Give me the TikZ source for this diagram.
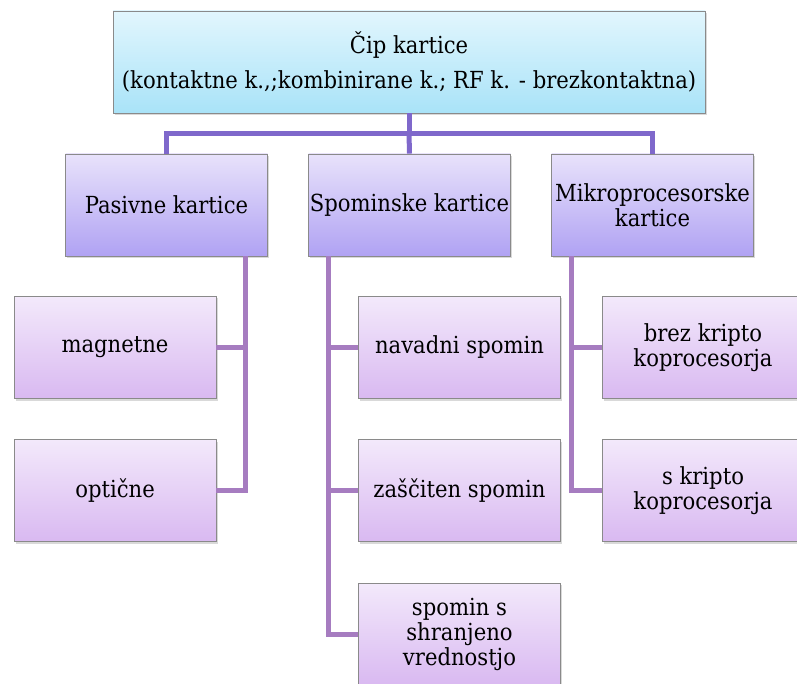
\documentclass[tikz,border=0pt]{standalone}
\usepackage{fontspec}
\setmainfont{DejaVu Serif Condensed}
\usetikzlibrary{shadows,calc}
\definecolor{topA}{HTML}{E2F6FD}
\definecolor{topB}{HTML}{A9E3F8}
\definecolor{midA}{HTML}{E8E2FB}
\definecolor{midB}{HTML}{B0A2F3}
\definecolor{lowA}{HTML}{F3E9FB}
\definecolor{lowB}{HTML}{D9B9F1}
\definecolor{lineA}{HTML}{7F68CB}
\definecolor{lineB}{HTML}{A67CC0}
\definecolor{edge}{HTML}{8A8A8A}
\tikzset{
  boxbase/.style={draw=edge, line width=0.9pt, rectangle, align=center, inner xsep=0pt, inner ysep=2pt,
    drop shadow={shadow xshift=1.5pt, shadow yshift=-2pt, opacity=0.3},
    font=\rmfamily\fontsize{23.5}{25}\selectfont},
  topbox/.style={boxbase, top color=topA, bottom color=topB, minimum width=592pt, minimum height=102pt,
    font=\rmfamily\fontsize{23.5}{35}\selectfont},
  midbox/.style={boxbase, top color=midA, bottom color=midB, minimum width=202pt, minimum height=102pt},
  lowbox/.style={boxbase, top color=lowA, bottom color=lowB, minimum width=202pt, minimum height=102pt},
  conA/.style={draw=lineA, line width=5pt},
  conB/.style={draw=lineB, line width=5pt},
}
\begin{document}
\begin{tikzpicture}[x=1pt, y=-1pt]
\useasboundingbox (0,0) rectangle (797,684);
\begin{scope}
\clip (0,0) rectangle (797,684);
\node[topbox] (top) at (409,62) {Čip kartice\\(kontaktne k.,;kombinirane k.; RF k. - brezkontaktna)};
\node[midbox] (pas) at (166.5,205) {Pasivne kartice};
\node[midbox] (spo) at (409.5,205) {Spominske kartice};
\node[midbox] (mik) at (652.5,205) {Mikroprocesorske\\kartice};
\node[lowbox] (mag) at (115,347.5) {magnetne};
\node[lowbox] (opt) at (115,490.5) {optične};
\node[lowbox] (nav) at (459.5,347.5) {navadni spomin};
\node[lowbox] (zas) at (459.5,490.5) {zaščiten spomin};
\node[lowbox] (shr) at (459.5,634) {spomin s\\shranjeno\\vrednostjo};
\node[lowbox] (brez) at (703,347.5) {brez kripto\\koprocesorja};
\node[lowbox] (skr) at (703,490.5) {s kripto\\koprocesorja};
\coordinate (pasd) at ($(pas.south east)+(-22,0)$);
\coordinate (spod) at ($(spo.south west)+(20,0)$);
\coordinate (mikd) at ($(mik.south west)+(20,0)$);
\coordinate (bar) at ($(top.south)+(0,20)$);
\draw[conA] (top.south) -- (bar);
\draw[conA] (bar) -| (pas.north);
\draw[conA] (bar) -- (spo.north);
\draw[conA] (bar) -| (mik.north);
\draw[conB] (pasd) |- (mag.east);
\draw[conB] (pasd) |- (opt.east);
\draw[conB] (spod) |- (nav.west);
\draw[conB] (spod) |- (zas.west);
\draw[conB] (spod) |- (shr.west);
\draw[conB] (mikd) |- (brez.west);
\draw[conB] (mikd) |- (skr.west);
\end{scope}
\end{tikzpicture}
\end{document}
